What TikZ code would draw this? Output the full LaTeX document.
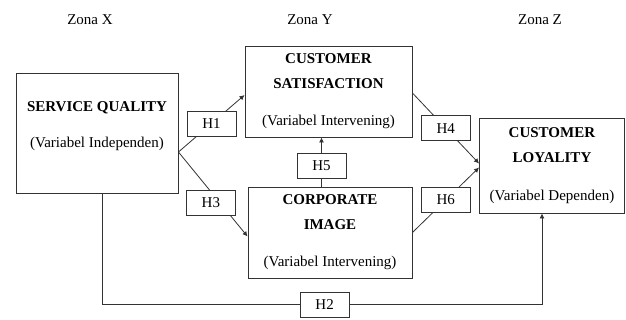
\documentclass[tikz,border=0pt]{standalone}
\usepackage{fontspec}
\setmainfont{Liberation Serif}
\usetikzlibrary{arrows, arrows.meta}

\begin{document}
\begin{tikzpicture}[x=1pt, y=-1pt, font=\fontsize{15}{25}\selectfont,
  hbox/.style={rectangle, draw=black!80, line width=.8pt, fill=white, minimum width=49pt, minimum height=25pt, inner sep=0pt},
  link/.style={draw=black!80, line width=.8pt, -{Latex[length=5pt, width=5pt]}}]
\useasboundingbox (0,0) rectangle (626,320);

\draw node (zx) at (90,20) {Zona X};
\draw node (zy) at (310,20) {Zona Y};
\draw node (zz) at (540,20) {Zona Z};

\begin{scope}[every node/.style={rectangle, draw=black!80, line width=.9pt, align=center, inner sep=0pt}]
  \draw node[minimum width=162pt, minimum height=120pt] (sq) at (97,133) {\textbf{SERVICE QUALITY}\\[11pt](Variabel Independen)\\[-8pt]};
  \draw node[minimum width=167pt, minimum height=91pt] (cs) at (328.5,91.5) {\textbf{CUSTOMER}\\\textbf{SATISFACTION}\\[12pt](Variabel Intervening)};
  \draw node[minimum width=164pt, minimum height=91pt] (ci) at (330,232.5) {\textbf{CORPORATE}\\\textbf{IMAGE}\\[12pt](Variabel Intervening)};
  \draw node[minimum width=145pt, minimum height=95pt] (cl) at (552,165.5) {\textbf{CUSTOMER}\\\textbf{LOYALITY}\\[13pt](Variabel Dependen)};
\end{scope}

\draw[link] ([yshift=-19pt]sq.east) -- node[hbox] (h1) {H1} ([yshift=-3.5pt]cs.west);
\draw[link] ([yshift=-19pt]sq.east) -- node[hbox, pos=.6, xshift=-9pt] (h3) {H3} ([yshift=-4pt]ci.west);
\draw[link] ([yshift=-1.5pt]cs.east) -- node[hbox] (h4) {H4} ([yshift=2pt]cl.west);
\draw[link] (ci.east) -- node[hbox] (h6) {H6} ([yshift=-2pt]cl.west);
\draw[link] ([xshift=-8.5pt]ci.north) -- node[hbox, pos=.42] (h5) {H5} ([xshift=-8.5pt]ci.north |- cs.south);
\draw[link] ([xshift=5pt]sq.south) |- node[hbox, pos=.753] (h2) {H2} ([xshift=-10pt, yshift=-91pt]cl.south) -- ([xshift=-10pt]cl.south);

\end{tikzpicture}
\end{document}
